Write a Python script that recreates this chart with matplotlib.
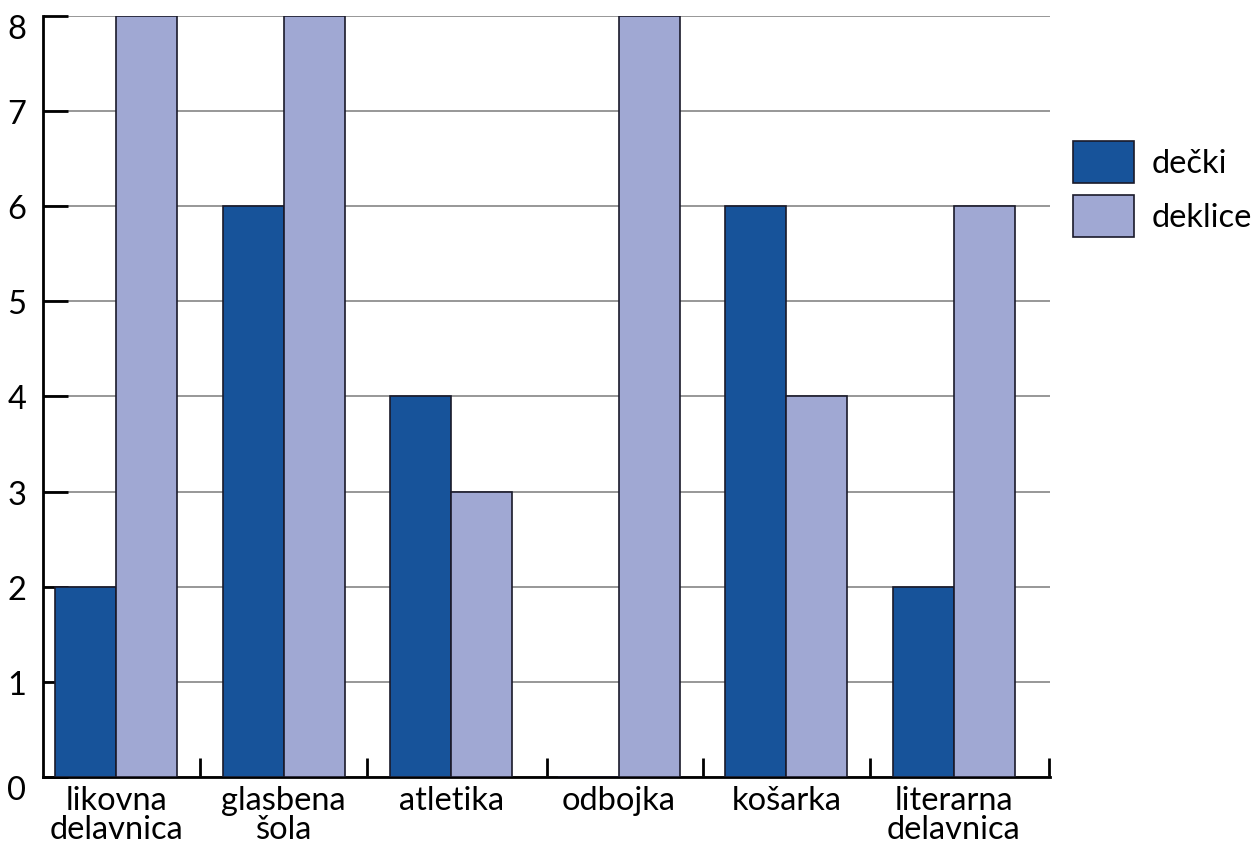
import numpy as np
import matplotlib.pyplot as plt
from matplotlib.transforms import ScaledTranslation

categories = ['likovna\ndelavnica', 'glasbena\nšola', 'atletika', 'odbojka', 'košarka', 'literarna\ndelavnica']
decki = [2, 6, 4, 0, 6, 2]
deklice = [8, 8, 3, 8, 4, 6]
series_names = ['dečki', 'deklice']
boundary_ticks = [0.5, 1.5, 2.57, 3.5, 4.5, 5.57]

plt.rcParams['font.family'] = ['Lato', 'DejaVu Sans']
fs = 23.5

fig = plt.figure(figsize=(12.54, 8.53), dpi=100)
ax = fig.add_axes([0.0343, 0.0879, 0.8030, 0.8922])

x = np.arange(len(categories))
w = 0.364
dark = '#17539a'
light = '#a0a8d3'

ax.bar(x - w / 2, decki, w, color=dark, edgecolor='#1a1a2a', linewidth=1.2, zorder=3, label=series_names[0])
ax.bar(x + w / 2, deklice, w, color=light, edgecolor='#1a1a2a', linewidth=1.2, zorder=3, label=series_names[1])

ax.set_xlim(-0.436, 5.573)
ax.set_ylim(0, 8)

# gridlines
ax.set_yticks(range(0, 9))
ax.yaxis.grid(True, color='#7a7a7a', linewidth=1.1, zorder=0)
ax.set_axisbelow(True)

ax.spines['top'].set_visible(False)
ax.spines['right'].set_visible(False)
ax.spines['left'].set_linewidth(2)
ax.spines['bottom'].set_linewidth(2)

ax.tick_params(axis='y', direction='in', length=18, width=2, pad=12, labelsize=fs)
labels = ax.get_yticklabels()
off = ScaledTranslation(0, -7 / 72, fig.dpi_scale_trans)
labels[0].set_transform(labels[0].get_transform() + off)
labels[-1].set_transform(labels[-1].get_transform() + off)

# category boundary ticks
ax.set_xticks(boundary_ticks)
ax.set_xticklabels([])
ax.tick_params(axis='x', which='major', direction='in', length=14, width=2)
ax.set_xticks(x, minor=True)
ax.set_xticklabels(categories, minor=True, fontsize=fs, linespacing=0.95)
ax.tick_params(axis='x', which='minor', length=0, pad=6)

ax.legend(loc='upper left', bbox_to_anchor=(1.023, 0.836), frameon=False,
          fontsize=fs, handlelength=1.85, handleheight=1.6, handletextpad=0.55,
          labelspacing=0.37, borderaxespad=0, borderpad=0)

fig.savefig('out.png', dpi=100)
